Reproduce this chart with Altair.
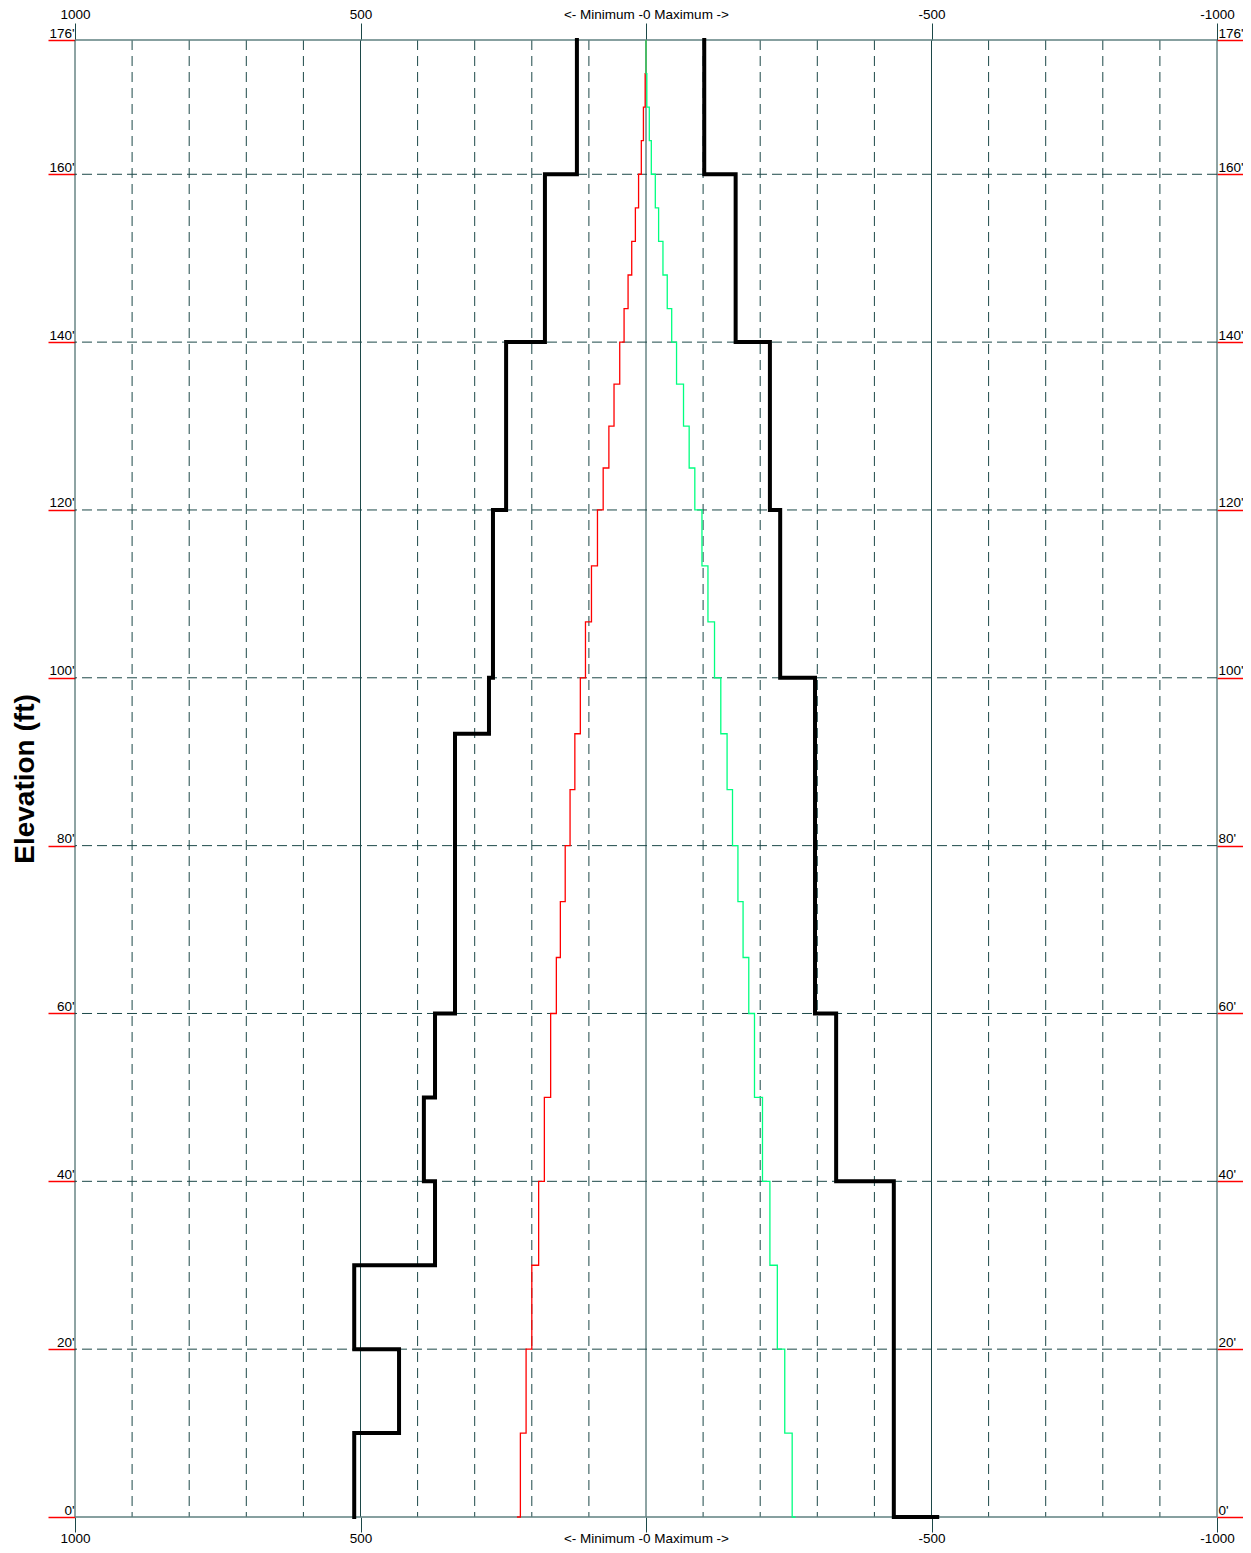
import altair as alt
import pandas as pd

# ---------------- data ----------------
x_tick_values = [1000, 500, 0, -500, -1000]
y_tick_values = [0, 20, 40, 60, 80, 100, 120, 140, 160, 176]
v_grid_solid = [1000, 500, 0, -500, -1000]
v_grid_dashed = [900, 800, 700, 600, 400, 300, 200, 100,
                 -100, -200, -300, -400, -600, -700, -800, -900]
h_grid_solid = [0, 176]
h_grid_dashed = [20, 40, 60, 80, 100, 120, 140, 160]

# thin stepped lines (segment boundaries in ft, value per segment from bottom)
thin_breaks = [0, 10, 20, 30, 40, 50, 60, 66.67, 73.33, 80, 86.67, 93.33, 100,
               106.67, 113.33, 120, 125, 130, 135, 140, 144, 148, 152, 156, 160,
               164, 168, 172, 176]
red_values = [220, 210, 200, 188, 178, 167, 157, 150, 141.5, 133, 124.6, 115,
              106, 95.5, 85, 75, 65, 56, 46, 38.4, 31.4, 25, 18.6, 13, 8.2, 4.5,
              1.5, 0]
red_end = 226
green_values = [-256, -243, -230, -217, -204, -190, -180, -170, -161, -151.5,
                -142, -131, -120, -108.5, -98, -85.5, -75.6, -65.7, -53.5, -45,
                -37.2, -29.7, -22.1, -16.3, -9.3, -5.8, -1.5, 0]
green_end = -262

# thick black envelopes
black_left_breaks = [0, 10, 20, 30, 40, 50, 60, 93.33, 100, 120, 140, 160, 176]
black_left_values = [511, 432.5, 511, 369.5, 389, 369.5, 334.5, 275, 268, 245,
                     177, 121]
black_right_breaks = [0, 40, 60, 100, 120, 140, 160, 176]
black_right_values = [-434, -333, -296, -235, -217, -157, -102]
black_right_end = -510


def step_path(breaks, values, end=None):
    rows = []
    for i in reversed(range(len(values))):
        rows.append((values[i], breaks[i + 1]))
        rows.append((values[i], breaks[i]))
    if end is not None:
        rows.append((end, breaks[0]))
    return pd.DataFrame({"value": [r[0] for r in rows],
                         "elev": [r[1] for r in rows],
                         "idx": list(range(len(rows)))})


GRID = "#1c4848"
FONT = "Liberation Sans"
LFS = 13.5

xscale = alt.Scale(domain=[-1000, 1000], reverse=True, nice=False, zero=False)
yscale = alt.Scale(domain=[0, 176], nice=False, zero=False)

x_label_expr = "datum.value == 0 ? '<- Minimum -0 Maximum ->' : '' + datum.value"
y_label_expr = "datum.value + \"'\""

axis_x_top = alt.Axis(orient="top", values=x_tick_values, title=None, grid=False,
                      domain=False, ticks=True, tickColor=GRID, tickSize=17,
                      tickWidth=1, labelFont=FONT, labelFontSize=LFS,
                      labelColor="black", labelPadding=2, labelFlush=False,
                      labelOverlap=False, labelExpr=x_label_expr)
axis_x_bottom = alt.Axis(orient="bottom", values=x_tick_values, title=None,
                         grid=False, domain=False, ticks=True, tickColor=GRID,
                         tickSize=15, tickWidth=1, labelFont=FONT,
                         labelFontSize=LFS, labelColor="black", labelPadding=10,
                         labelBaseline="alphabetic",
                         labelFlush=False, labelOverlap=False,
                         labelExpr=x_label_expr)
axis_y_left = alt.Axis(orient="left", values=y_tick_values,
                       title="Elevation (ft)", titleFont=FONT, titleFontSize=28,
                       titleFontWeight="bold", titleColor="black",
                       titleX=-50, titleY=738.5, titleAngle=270,
                       titleBaseline="middle", titleAlign="center",
                       grid=False, domain=False, ticks=True, tickColor="red",
                       tickSize=27, tickWidth=1.5, labelFont=FONT,
                       labelFontSize=LFS, labelColor="black", labelPadding=-26,
                       labelAlign="right", labelBaseline="bottom",
                       labelFlush=False, labelOverlap=False,
                       labelExpr=y_label_expr)
axis_y_right = alt.Axis(orient="right", values=y_tick_values, title=None,
                        grid=False, domain=False, ticks=True, tickColor="red",
                        tickSize=27, tickWidth=1.5, labelFont=FONT,
                        labelFontSize=LFS, labelColor="black", labelPadding=-26,
                        labelAlign="left", labelBaseline="bottom",
                        labelFlush=False, labelOverlap=False,
                        labelExpr=y_label_expr)

# ---------------- grid ----------------
vdash = alt.Chart(pd.DataFrame({"gx": v_grid_dashed})).mark_rule(
    color=GRID, strokeWidth=1, strokeDash=[10, 6]).encode(
    x=alt.X("gx:Q", scale=xscale, axis=None))
vsolid = alt.Chart(pd.DataFrame({"gx": v_grid_solid})).mark_rule(
    color=GRID, strokeWidth=1).encode(
    x=alt.X("gx:Q", scale=xscale, axis=None))
hdash = alt.Chart(pd.DataFrame({"gy": h_grid_dashed})).mark_rule(
    color=GRID, strokeWidth=1, strokeDash=[10, 5]).encode(
    y=alt.Y("gy:Q", scale=yscale, axis=None))
hsolid = alt.Chart(pd.DataFrame({"gy": h_grid_solid})).mark_rule(
    color="#5f8080", strokeWidth=1.3).encode(
    y=alt.Y("gy:Q", scale=yscale, axis=None))

# ---------------- lines ----------------
red = alt.Chart(step_path(thin_breaks, red_values, red_end)).mark_line(
    color="#ff0000", strokeWidth=1.3, strokeJoin="miter").encode(
    x=alt.X("value:Q", scale=xscale, axis=None),
    y=alt.Y("elev:Q", scale=yscale, axis=None),
    order="idx:Q")
green = alt.Chart(step_path(thin_breaks, green_values, green_end)).mark_line(
    color="#00ff80", strokeWidth=1.3, strokeJoin="miter").encode(
    x=alt.X("value:Q", scale=xscale, axis=None),
    y=alt.Y("elev:Q", scale=yscale, axis=None),
    order="idx:Q")
black_left = alt.Chart(step_path(black_left_breaks, black_left_values)).mark_line(
    color="black", strokeWidth=4, strokeJoin="miter", strokeCap="square").encode(
    x=alt.X("value:Q", scale=xscale, axis=axis_x_bottom),
    y=alt.Y("elev:Q", scale=yscale, axis=axis_y_left),
    order="idx:Q")
black_right = alt.Chart(step_path(black_right_breaks, black_right_values,
                                  black_right_end)).mark_line(
    color="black", strokeWidth=4, strokeJoin="miter", strokeCap="square").encode(
    x=alt.X("value:Q", scale=xscale, axis=axis_x_top),
    y=alt.Y("elev:Q", scale=yscale, axis=axis_y_right),
    order="idx:Q")

chart = alt.layer(vdash, vsolid, hdash, hsolid, red, green, black_left,
                  black_right).resolve_axis(
    x="independent", y="independent").properties(
    width=1142, height=1477,
    autosize=alt.AutoSizeParams(type="none"),
    padding={"left": 67, "top": 32, "right": 26, "bottom": 28},
    background="white").configure_view(stroke=None)

chart.save("out.html", embed_options={"renderer": "svg", "actions": False})
